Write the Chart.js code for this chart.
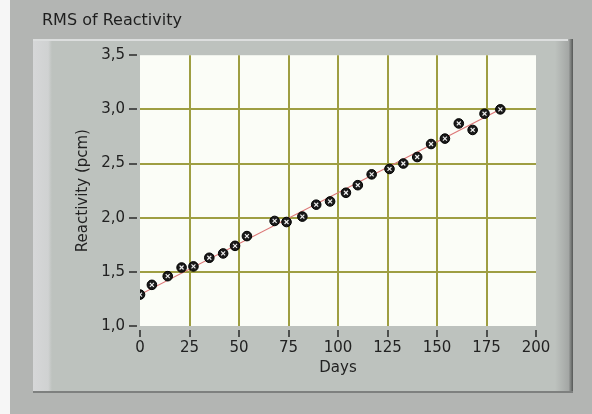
<!DOCTYPE html>
<html>
<head>
<meta charset="utf-8">
<script src="https://cdn.jsdelivr.net/npm/chart.js@4.4.0/dist/chart.umd.min.js"></script>
<style>
  html, body { margin: 0; padding: 0; background: #b3b5b3; }
  #wrap { width: 592px; height: 414px; }
</style>
</head>
<body>
<div id="wrap"><canvas id="rms"></canvas></div>
<script>
// values
const days = [0, 6, 14, 21, 27, 35, 42, 48, 54, 68, 74, 82, 89, 96, 104, 110, 117, 126, 133, 140, 147, 154, 161, 168, 174, 182];
const rms = [1.29, 1.38, 1.46, 1.54, 1.55, 1.63, 1.67, 1.74, 1.83, 1.97, 1.96, 2.01, 2.12, 2.15, 2.23, 2.30, 2.40, 2.45, 2.50, 2.56, 2.68, 2.73, 2.87, 2.81, 2.96, 3.00];
const fitDays = [0, 183];
const fitValues = [1.29, 3.01];

const xTicks = [0, 25, 50, 75, 100, 125, 150, 175, 200];
const yTicks = [1.0, 1.5, 2.0, 2.5, 3.0, 3.5];

const points = days.map((d, i) => ({x: d, y: rms[i]}));
const fit = fitDays.map((d, i) => ({x: d, y: fitValues[i]}));

const FONT = {family: "DejaVu Sans", size: 15};

// labview-ish panel behind the graph
const panel = {
  id: "panel",
  beforeDraw(chart) {
    const {ctx, chartArea: a} = chart;
    ctx.save();
    ctx.fillStyle = "#b3b5b3";
    ctx.fillRect(0, 0, 592, 414);
    ctx.fillStyle = "#f6f6f6";
    ctx.fillRect(0, 0, 10, 414);

    ctx.fillStyle = "#bdc2be";
    ctx.fillRect(33, 39, 540, 354);
    let g = ctx.createLinearGradient(33, 0, 52, 0);
    g.addColorStop(0, "#d6d7d8");
    g.addColorStop(0.8, "#d0d2d2");
    g.addColorStop(1, "#bdc2be");
    ctx.fillStyle = g;
    ctx.fillRect(33, 39, 19, 354);
    g = ctx.createLinearGradient(555, 0, 573, 0);
    g.addColorStop(0, "#bdc2be");
    g.addColorStop(0.75, "#a4a7a5");
    g.addColorStop(1, "#555756");
    ctx.fillStyle = g;
    ctx.fillRect(555, 39, 18, 354);
    ctx.fillStyle = "#dcdede";
    ctx.fillRect(33, 39, 535, 2);
    ctx.fillStyle = "#7e807f";
    ctx.fillRect(33, 391, 540, 2);

    ctx.fillStyle = "#fbfdf7";
    ctx.fillRect(a.left, a.top, a.right - a.left, a.bottom - a.top);
    ctx.restore();
  }
};

const innerGrid = (ctx) => {
  const n = ctx.scale.ticks.length;
  return ctx.index === 0 || ctx.index === n - 1 ? "rgba(0,0,0,0)" : "#9e9e42";
};

new Chart(document.getElementById("rms"), {
  type: "scatter",
  data: {
    datasets: [
      {
        label: "fit",
        type: "line",
        data: fit,
        borderColor: "#dc7676",
        borderWidth: 1.2,
        pointRadius: 0,
        order: 3,
      },
      {
        label: "RMS",
        data: points,
        pointStyle: "circle",
        pointRadius: 4.8,
        backgroundColor: "#1a1a1a",
        borderColor: "#000",
        borderWidth: 1,
        order: 2,
      },
      {
        label: "RMS marks",
        data: points,
        pointStyle: "crossRot",
        pointRadius: 2.8,
        borderColor: "#eeeeee",
        borderWidth: 1.2,
        order: 1,
      },
    ],
  },
  options: {
    responsive: true,
    maintainAspectRatio: false,
    animation: false,
    layout: {padding: {left: 42, top: 0, right: 56, bottom: 0}},
    plugins: {
      legend: {display: false},
      tooltip: {enabled: false},
      title: {
        display: true,
        text: "RMS of Reactivity",
        align: "start",
        color: "#1e1e1e",
        font: {family: "DejaVu Sans", size: 16, weight: "normal"},
        padding: {top: 11, bottom: 25},
      },
    },
    scales: {
      x: {
        type: "linear",
        min: 0,
        max: 200,
        afterBuildTicks: (s) => { s.ticks = xTicks.map((v) => ({value: v})); },
        afterFit: (s) => { s.height = 88; },
        border: {display: false},
        grid: {color: innerGrid, lineWidth: 2, tickLength: 11, tickColor: "#111", tickWidth: 1.3, tickBorderDash: [0, 4, 7, 100]},
        ticks: {color: "#222", font: FONT, padding: 2, maxRotation: 0},
        title: {display: true, text: "Days", color: "#222", font: FONT, padding: {top: 0, bottom: 37}},
      },
      y: {
        type: "linear",
        min: 1,
        max: 3.5,
        afterBuildTicks: (s) => { s.ticks = yTicks.map((v) => ({value: v})); },
        afterFit: (s) => { s.width = 98; },
        border: {display: false},
        grid: {color: innerGrid, lineWidth: 2, tickLength: 11, tickColor: "#111", tickWidth: 1.3, tickBorderDash: [8, 100]},
        ticks: {color: "#222", font: FONT, padding: 4, callback: (v) => v.toFixed(1).replace(".", ",")},
        title: {display: true, text: "Reactivity (pcm)", color: "#222", font: FONT, padding: {top: 32, bottom: 0}},
      },
    },
  },
  plugins: [panel],
});
</script>
</body>
</html>
